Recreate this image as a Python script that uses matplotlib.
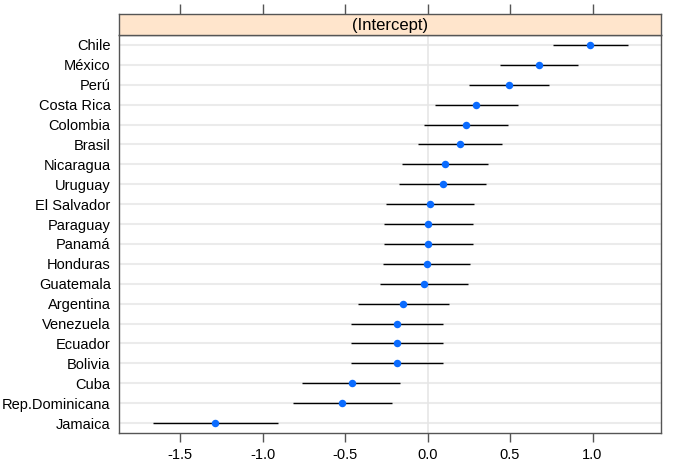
import numpy as np
import matplotlib.pyplot as plt

plt.rcParams['font.family'] = ['Liberation Sans', 'DejaVu Sans']

# --- Datos (efectos aleatorios por país, de arriba hacia abajo) ---
countries = ['Chile', 'México', 'Perú', 'Costa Rica', 'Colombia', 'Brasil',
             'Nicaragua', 'Uruguay', 'El Salvador', 'Paraguay', 'Panamá',
             'Honduras', 'Guatemala', 'Argentina', 'Venezuela', 'Ecuador',
             'Bolivia', 'Cuba', 'Rep.Dominicana', 'Jamaica']
estimates = [0.987, 0.677, 0.495, 0.294, 0.232, 0.198,
             0.107, 0.091, 0.013, 0.005, 0.005,
             -0.005, -0.021, -0.146, -0.188, -0.188,
             -0.188, -0.458, -0.516, -1.286]
lower = [0.760, 0.440, 0.253, 0.044, -0.021, -0.057,
         -0.154, -0.172, -0.253, -0.263, -0.263,
         -0.271, -0.289, -0.419, -0.464, -0.464,
         -0.464, -0.760, -0.815, -1.665]
upper = [1.216, 0.914, 0.737, 0.547, 0.487, 0.453,
         0.367, 0.354, 0.279, 0.273, 0.273,
         0.260, 0.247, 0.128, 0.091, 0.091,
         0.091, -0.164, -0.216, -0.906]
strip_label = '(Intercept)'
x_ticks = [-1.5, -1.0, -0.5, 0.0, 0.5, 1.0]

W, H = 676, 472
fig = plt.figure(figsize=(W / 100, H / 100), dpi=100)

# panel y 35..433 px, strip 14..35 px, x 119..661 px
left, right = 119 / W, 661 / W
ax = fig.add_axes([left, 1 - 433 / H, right - left, (433 - 35) / H])
strip = fig.add_axes([left, 1 - 35 / H, right - left, (35 - 14) / H])

n = len(countries)
ypos = np.arange(n, 0, -1)

edge = '#555555'

# líneas guía
for y in ypos:
    ax.axhline(y, color='#ebebeb', lw=1.5, zorder=0)
ax.axvline(0, color='#e6e6e6', lw=1.2, zorder=0)

ax.hlines(ypos, lower, upper, color='black', lw=1.0, zorder=2)
ax.plot(estimates, ypos, 'o', color='#0a6bff', ms=5.4, mec='none', zorder=3)

ax.set_xlim(-1.870, 1.415)
ax.set_ylim(0.5, n + 0.5)
ax.set_yticks(ypos)
ax.set_yticklabels(countries, fontsize=10.5)
ax.set_xticks(x_ticks)
ax.set_xticklabels([f'{t:.1f}' for t in x_ticks], fontsize=10.5)
ax.tick_params(axis='y', length=0, pad=6)
ax.tick_params(axis='x', length=6.5, width=1.0, color=edge, pad=4, direction='out')
for s in ax.spines.values():
    s.set_color(edge)
    s.set_linewidth(1.0)

# franja superior
strip.set_facecolor('#ffe5cc')
strip.set_xlim(ax.get_xlim())
strip.set_ylim(0, 1)
strip.set_xticks(x_ticks)
strip.set_yticks([])
strip.tick_params(axis='x', bottom=False, labelbottom=False, top=True,
                  labeltop=False, length=7, width=1.0, color=edge)
for s in strip.spines.values():
    s.set_color(edge)
    s.set_linewidth(1.0)
strip.text(0.5, 0.45, strip_label, transform=strip.transAxes,
           ha='center', va='center', fontsize=12)

fig.savefig('out.png', dpi=100)
